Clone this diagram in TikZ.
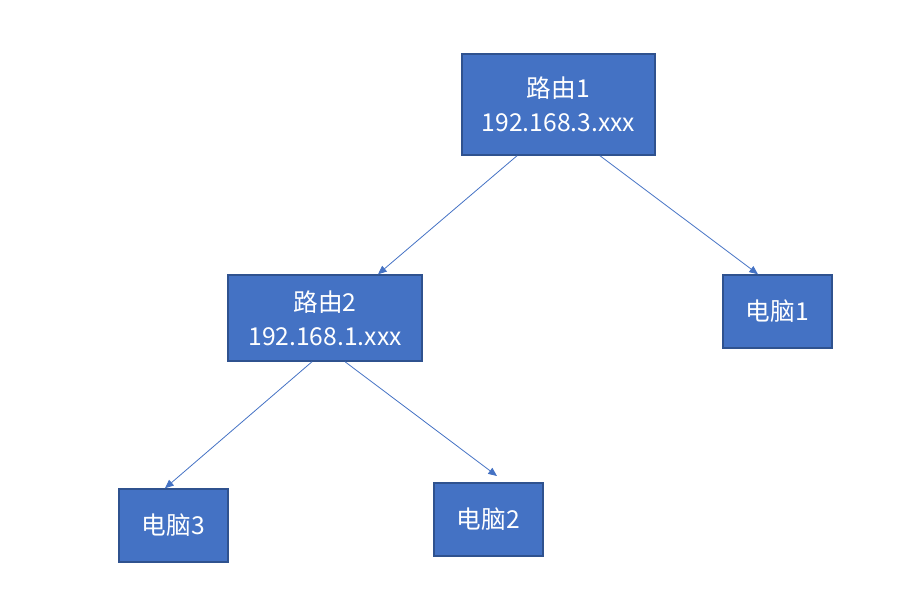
\documentclass[tikz,border=0pt]{standalone}
\usepackage{fontspec}
\setmainfont{Noto Sans CJK SC}
\usepackage{tikz}
\usetikzlibrary{arrows.meta}

\definecolor{boxfill}{HTML}{4472C4}
\definecolor{boxline}{HTML}{2F528F}

\tikzset{
  netbox/.style={draw=boxline, fill=boxfill, line width=1.1pt, text=white,
    inner sep=0pt, align=center, font=\fontsize{18.5}{25.5}\selectfont},
  link/.style={draw=boxfill, line width=0.6pt, -{Triangle[length=6.5pt,width=5.5pt]}}
}

\begin{document}
\begin{tikzpicture}[x=0.75pt,y=-0.75pt]
\useasboundingbox (0,0) rectangle (922,611);
% routers
\node[netbox, minimum width=144.75pt, minimum height=75.75pt] (r1) at (558.5,104.5) {路由1\\192.168.3.xxx};
\node[netbox, minimum width=145.5pt, minimum height=64.5pt] (r2) at (325,318) {路由2\\192.168.1.xxx};
% computers
\node[netbox, minimum width=81.75pt, minimum height=54.75pt] (p1) at (777.5,311.5) {电脑1};
\node[netbox, minimum width=81.75pt, minimum height=54.75pt] (p3) at (173.5,525.5) {电脑3};
\node[netbox, minimum width=81.75pt, minimum height=54.75pt] (p2) at (488.5,519.5) {电脑2};
\coordinate (e2) at (497,476);
% links
\draw[link] ([xshift=-31.1pt]r1.south) -- ([xshift=39.75pt]r2.north);
\draw[link] ([xshift=31.1pt]r1.south) -- ([xshift=-14.6pt]p1.north);
\draw[link] ([xshift=-9.75pt]r2.south) -- ([xshift=-6.4pt]p3.north);
\draw[link] ([xshift=15pt]r2.south) -- (e2);
\end{tikzpicture}
\end{document}
